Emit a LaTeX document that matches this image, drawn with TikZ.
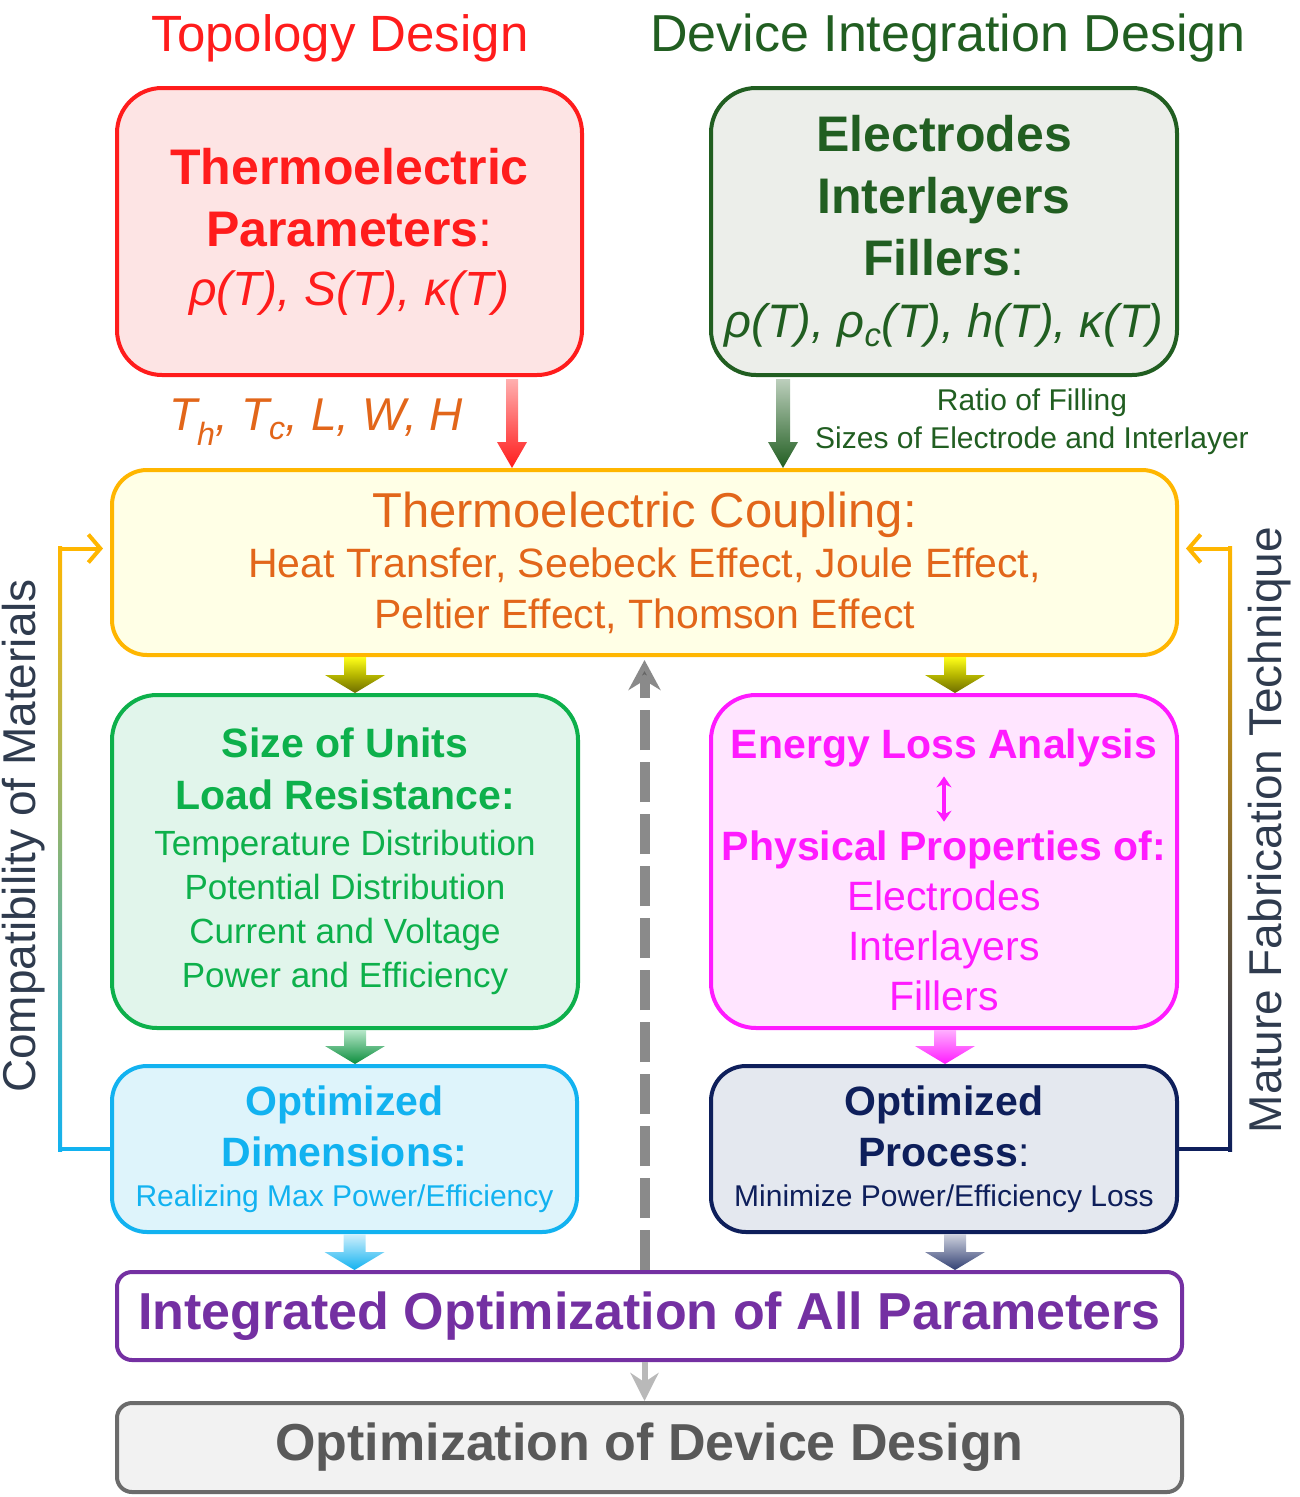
\documentclass[tikz,border=0pt]{standalone}
\usepackage{fontspec}
\setmainfont{Liberation Sans}
\usetikzlibrary{calc,arrows.meta}

\definecolor{tdred}{HTML}{FF1C1C}
\definecolor{tdpink}{HTML}{FDE4E4}
\definecolor{didgreen}{HTML}{215E21}
\definecolor{didgrey}{HTML}{ECEEEA}
\definecolor{tcorange}{HTML}{E2661A}
\definecolor{tcamber}{HTML}{FFB600}
\definecolor{tcyellow}{HTML}{FFFFE6}
\definecolor{sugreen}{HTML}{0DB04B}
\definecolor{sufill}{HTML}{E1F5EB}
\definecolor{elmag}{HTML}{FF1AFF}
\definecolor{elfill}{HTML}{FFE5FF}
\definecolor{odsky}{HTML}{12B2F0}
\definecolor{odfill}{HTML}{DEF4FB}
\definecolor{opnavy}{HTML}{0E1F5B}
\definecolor{opfill}{HTML}{E4E8EF}
\definecolor{iopurple}{HTML}{7430A2}
\definecolor{oddgrey}{HTML}{6B6B6B}
\definecolor{oddtext}{HTML}{595959}
\definecolor{oddfill}{HTML}{F2F2F2}
\definecolor{sidetext}{HTML}{2F3B4E}
\definecolor{dashgrey}{HTML}{8A8A8A}
\definecolor{midbrown}{HTML}{B8A48C}

% fat shaded arrow: from, to, half shaft, half head, head length, top, bottom
\newcommand{\blockarrow}[7]{%
  \shade[top color=#6,bottom color=#7] let \p1=(#1), \p2=(#2) in
    (\x1-#3,\y1) -- (\x1+#3,\y1) -- (\x1+#3,\y2+#5) -- (\x1+#4,\y2+#5)
    -- (\x1,\y2) -- (\x1-#4,\y2+#5) -- (\x1-#3,\y2+#5) -- cycle;}

\begin{document}
\begin{tikzpicture}[x=1pt,y=-1pt,
  box/.style={draw,line width=4pt,rounded corners=#1,align=center,inner sep=0pt},
  box/.default=40,
  lossbold/.style={text=elmag,font=\fontsize{41}{50}\selectfont\bfseries,inner sep=0pt},
  feedback/.style={line width=4pt},
  every node/.append style={inner sep=0pt}]
\useasboundingbox (0,0) rectangle (1300,1497);

% the two columns
\node[box=45,draw=tdred,fill=tdpink,minimum width=465,minimum height=287,text=tdred,
  font=\fontsize{50}{62}\selectfont] (param) at (349.5,231.5)
  {\textbf{Thermoelectric}\\\textbf{Parameters}:\\[-3pt]{\fontsize{48}{62}\selectfont\itshape ρ(T), S(T), κ(T)}};
\node[box=45,draw=didgreen,fill=didgrey,minimum width=466,minimum height=287,text=didgreen,
  font=\fontsize{50}{62}\selectfont] (elec) at (944,231.5)
  {\textbf{Electrodes}\\\textbf{Interlayers}\\\textbf{Fillers}:\\{\fontsize{47}{62}\selectfont\itshape ρ(T), ρ\textsubscript{c}(T), h(T), κ(T)}};
\node[text=tdred,font=\fontsize{51}{51}\selectfont] (topo) at (340,38) {Topology Design};
\node[text=didgreen,font=\fontsize{52}{52}\selectfont] (devint) at (948,38) {Device Integration Design};

\node[box=35,draw=tcamber,fill=tcyellow,minimum width=1065,minimum height=185,text=tcorange,
  font=\fontsize{41}{51}\selectfont] (coupling) at (644.5,562.5)
  {{\fontsize{49}{51}\selectfont Thermoelectric Coupling:}\\[-1pt]Heat Transfer, Seebeck Effect, Joule Effect,\\Peltier Effect, Thomson Effect};

\coordinate (redtop) at ($(param.south east)+(-72,2)$);
\coordinate (greentop) at ($(elec.south west)+(74,2)$);
\blockarrow{redtop}{redtop |- coupling.north}{6pt}{15pt}{26pt}{tdred!35}{tdred}
\blockarrow{greentop}{greentop |- coupling.north}{7pt}{15pt}{26pt}{didgreen!30}{didgreen}
\node[text=tcorange,font=\fontsize{46}{46}\selectfont\itshape] (geom) at (316,422)
  {T\textsubscript{h}, T\textsubscript{c}, L, W, H};
\node[text=didgreen,font=\fontsize{30}{38}\selectfont,align=center] (filling) at (1032,422)
  {Ratio of Filling\\Sizes of Electrode and Interlayer};

% middle row
\node[box=45,draw=sugreen,fill=sufill,minimum width=466,minimum height=333,text=sugreen,
  font=\fontsize{35}{44}\selectfont] (units) at (345,861.5)
  {{\fontsize{41}{52}\selectfont\bfseries Size of Units}\\[8pt]{\fontsize{41}{52}\selectfont\bfseries Load Resistance:}\\[2pt]Temperature Distribution\\Potential Distribution\\Current and Voltage\\Power and Efficiency};
\node[box=45,draw=elmag,fill=elfill,minimum width=466,minimum height=333] (loss) at (944,861.5) {};
\node[lossbold] (ela) at ($(loss.north)+(0,55)$) {Energy Loss Analysis};
\node[lossbold] (ppo) at ($(loss.north)+(0,157)$) {Physical Properties of:};
\node[text=elmag,font=\fontsize{41}{50}\selectfont,align=center] (mats) at ($(loss.north)+(0,253)$)
  {Electrodes\\Interlayers\\Fillers};
\draw[elmag,line width=4pt,{Stealth[length=11pt,width=15pt]}-{Stealth[length=11pt,width=15pt]},
  shorten <=9pt,shorten >=9pt] (ela) -- (ppo);

\coordinate (unitsin) at ($(units.north)+(10,0)$);
\coordinate (lossin) at ($(loss.north)+(11,0)$);
\blockarrow{unitsin |- coupling.south}{unitsin}{11pt}{30pt}{18pt}{yellow!90}{olive!85!black}
\blockarrow{lossin |- coupling.south}{lossin}{11pt}{30pt}{18pt}{yellow!90}{olive!85!black}

% optimized results
\node[box=35,draw=odsky,fill=odfill,minimum width=465,minimum height=166,text=odsky,
  font=\fontsize{41}{51}\selectfont] (optdim) at (344.5,1149)
  {\textbf{Optimized}\\\textbf{Dimensions:}\\[-11pt]{\fontsize{30}{43}\selectfont Realizing Max Power/Efficiency}};
\node[box=35,draw=opnavy,fill=opfill,minimum width=466,minimum height=166,text=opnavy,
  font=\fontsize{41}{51}\selectfont] (optproc) at (944,1149)
  {\textbf{Optimized}\\\textbf{Process}:\\[-11pt]{\fontsize{30}{43}\selectfont Minimize Power/Efficiency Loss}};
\coordinate (unitsout) at ($(units.south)+(10,0)$);
\coordinate (lossout) at ($(loss.south)+(1,0)$);
\blockarrow{unitsout}{unitsout |- optdim.north}{11pt}{30pt}{18pt}{sugreen!30}{sugreen!80!black}
\blockarrow{lossout}{lossout |- optproc.north}{11pt}{30pt}{18pt}{elmag!35}{elmag}

\node[box=15,draw=iopurple,fill=white,minimum width=1065,minimum height=88,text=iopurple,
  font=\fontsize{52}{60}\selectfont\bfseries] (integ) at (649.5,1316)
  {Integrated Optimization of All Parameters};
\node[box=15,draw=oddgrey,fill=oddfill,minimum width=1065,minimum height=89,text=oddtext,
  font=\fontsize{52}{60}\selectfont\bfseries] (device) at (649.5,1447.5)
  {Optimization of Device Design};
\coordinate (dimout) at ($(optdim.south)+(10,0)$);
\coordinate (procout) at ($(optproc.south)+(11,0)$);
\blockarrow{dimout}{dimout |- integ.north}{11pt}{30pt}{18pt}{odsky!20}{odsky}
\blockarrow{procout}{procout |- integ.north}{11pt}{30pt}{18pt}{opnavy!20}{opnavy!85}

% feedback to the coupling
\draw[dashgrey,line width=10pt,dash pattern=on 40pt off 12pt,
  -{Stealth[length=30pt,width=32pt,fill=gray!80!black]},shorten >=3pt]
  (integ.north -| coupling.south) -- (coupling.south);
\draw[gray!55,line width=6pt,-{Stealth[length=28pt,width=28pt]}]
  (integ.south -| coupling.south) -- (device.north -| coupling.south);

\coordinate (cwest) at ($(coupling.west)+(0,-14)$);
\coordinate (ceast) at ($(coupling.east)+(0,-14)$);
\coordinate (lb) at ($(optdim.west)+(-50,0)$);
\coordinate (lt) at (lb |- cwest);
\coordinate (rb) at ($(optproc.east)+(51,0)$);
\coordinate (rt) at (rb |- ceast);
\draw[feedback,odsky] (optdim.west) -- (lb);
\shade[top color=tcamber,middle color=midbrown,bottom color=odsky] ($(lt)+(-2,-2)$) rectangle ($(lb)+(2,2)$);
\draw[feedback,tcamber,-{Straight Barb[length=12pt,width=28pt]},shorten >=7pt] (lt) -- (cwest);
\draw[feedback,opnavy] (optproc.east) -- (rb);
\shade[top color=tcamber,middle color=midbrown!80!black,bottom color=opnavy] ($(rt)+(-2,-2)$) rectangle ($(rb)+(2,2)$);
\draw[feedback,tcamber,-{Straight Barb[length=12pt,width=28pt]},shorten >=7pt] (rt) -- (ceast);
\node[rotate=90,text=sidetext,font=\fontsize{46}{46}\selectfont] (compat) at (24,836)
  {Compatibility of Materials};
\node[rotate=90,text=sidetext,font=\fontsize{46}{46}\selectfont] (mature) at (1270,830)
  {Mature Fabrication Technique};
\end{tikzpicture}
\end{document}
